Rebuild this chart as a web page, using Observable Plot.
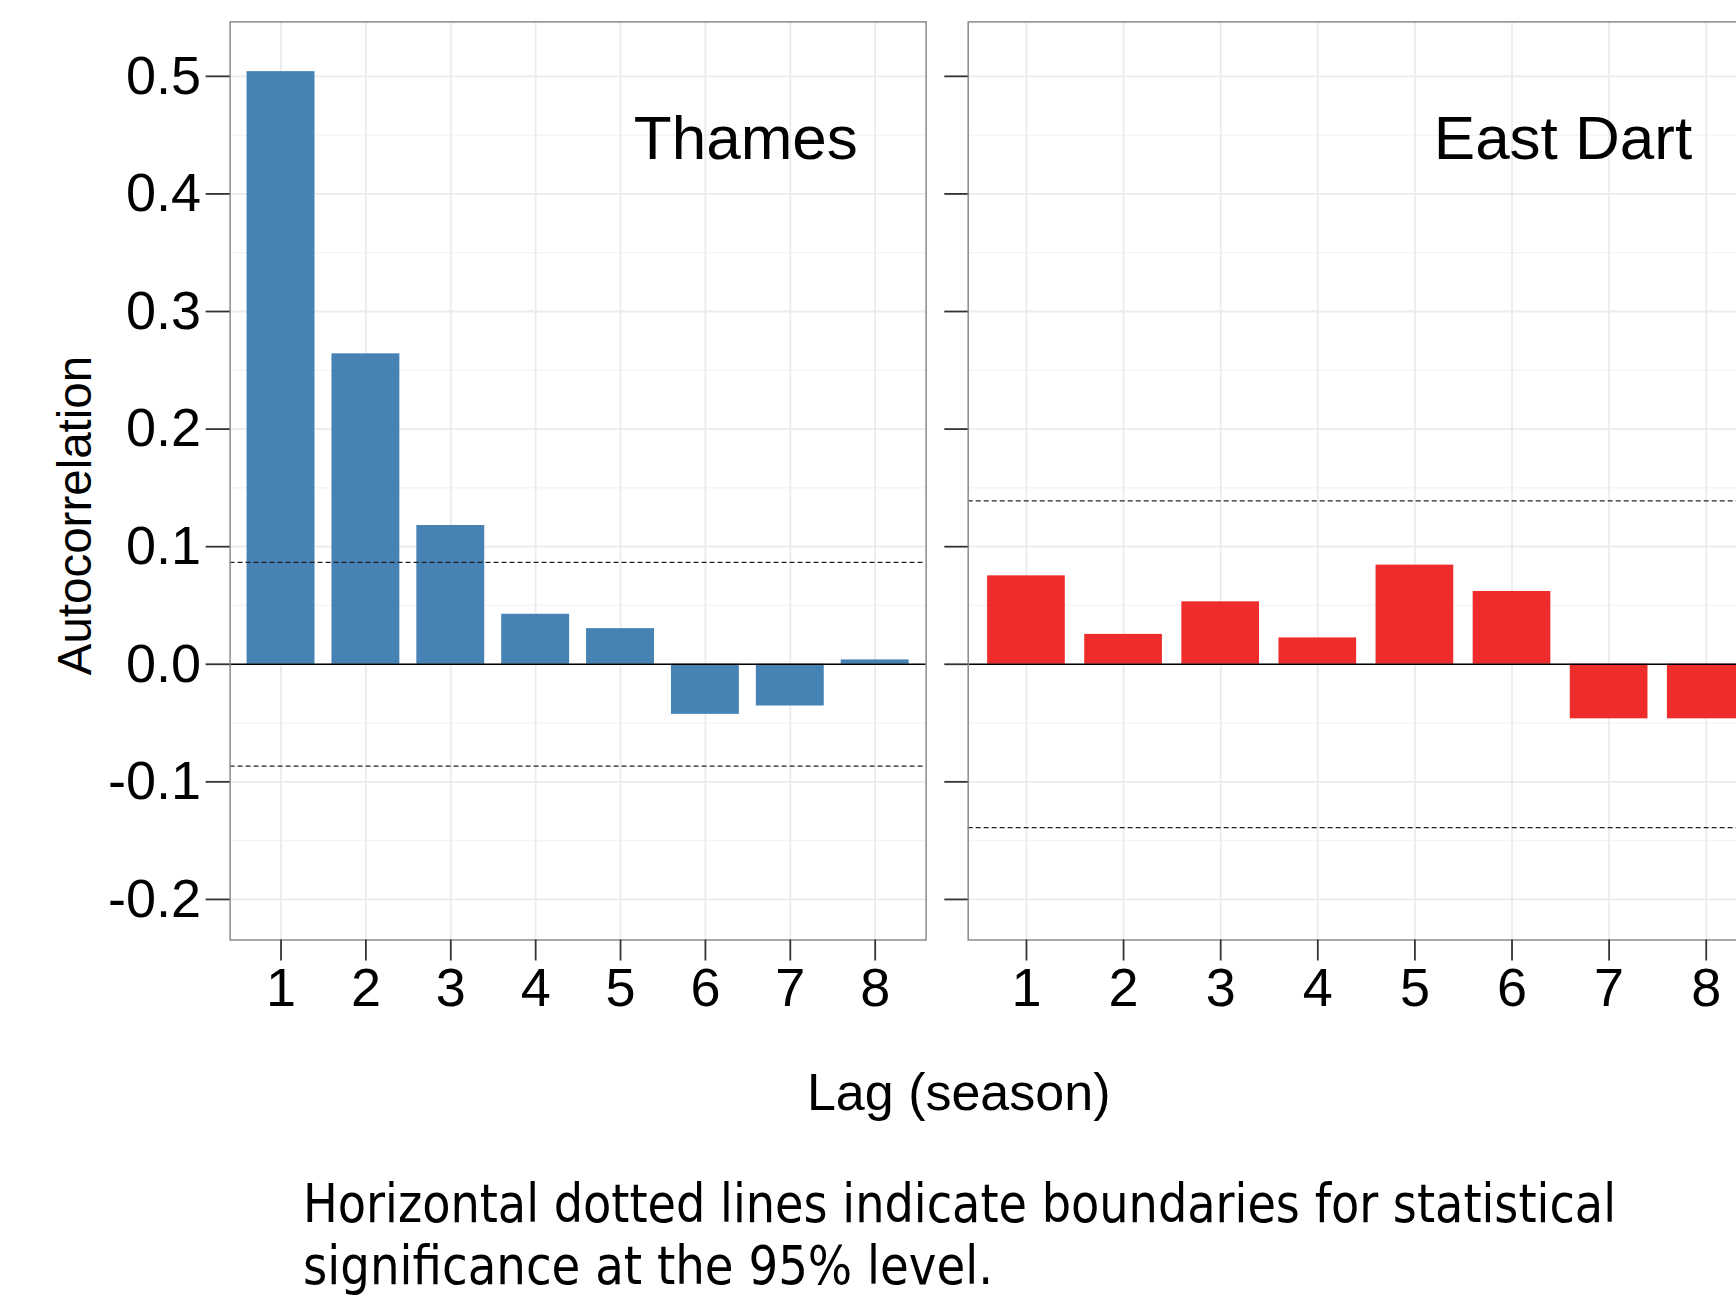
<!DOCTYPE html>
<html>
<head>
<meta charset="utf-8">
<script src="https://cdn.jsdelivr.net/npm/d3@7"></script>
<script src="https://cdn.jsdelivr.net/npm/@observablehq/plot@0.6"></script>
<style>
  html, body { margin: 0; padding: 0; background: #fff; overflow: hidden; }
  #stage { position: relative; width: 1736px; height: 1296px; overflow: hidden; background: #fff; }
  #left, #right, #overlay { position: absolute; top: 0; }
  #left { left: 0; }
  #right { left: 946px; }
  #overlay { left: 0; }
  svg { font-family: "Liberation Sans", Arial, sans-serif; }
</style>
</head>
<body>
<div id="stage">
  <div id="left"></div>
  <div id="right"></div>
  <svg id="overlay" width="1736" height="1296" style="overflow:visible">
    <text id="xtitle" x="958.7" y="1110.4" text-anchor="middle" font-size="52" fill="#000"
      font-family="Liberation Sans, Arial, sans-serif">Lag (season)</text>
    <text id="cap1" x="303" y="1221.7" font-size="53" fill="#000" textLength="1313" lengthAdjust="spacingAndGlyphs"
      style="font-family:'DejaVu Sans Condensed','DejaVu Sans',sans-serif; font-stretch:condensed">Horizontal dotted lines indicate boundaries for statistical</text>
    <text id="cap2" x="303" y="1284.3" font-size="53" fill="#000" textLength="690" lengthAdjust="spacingAndGlyphs"
      style="font-family:'DejaVu Sans Condensed','DejaVu Sans',sans-serif; font-stretch:condensed">significance at the 95% level.</text>
  </svg>
</div>
<script>
// ---- data ----
const lags = [1, 2, 3, 4, 5, 6, 7, 8];
const thamesAcf = [0.504, 0.264, 0.118, 0.0425, 0.0303, -0.0426, -0.0355, 0.0037];
const eastDartAcf = [0.0752, 0.0254, 0.0531, 0.0224, 0.0843, 0.0619, -0.0464, -0.0464];
const thamesBound = 0.0867;
const eastDartBound = 0.139;
const yTicks = [-0.2, -0.1, 0.0, 0.1, 0.2, 0.3, 0.4, 0.5];
const yMinor = [-0.15, -0.05, 0.05, 0.15, 0.25, 0.35, 0.45];
const yDomain = [-0.2345, 0.5463];
const panelNames = ["Thames", "East Dart"];
const panelColors = ["#4682B4", "#EE2C2C"];

function panel({values, bound, name, color, width, marginLeft, marginRight, labels, nameDx}) {
  const data = lags.map((lag, i) => ({lag, acf: values[i]}));
  const marks = [
    Plot.ruleY(yMinor, {stroke: "#f3f3f3", strokeWidth: 1.2}),
    Plot.ruleY(yTicks, {stroke: "#ebebeb", strokeWidth: 1.8}),
    Plot.gridX(lags, {stroke: "#ebebeb", strokeOpacity: 1, strokeWidth: 1.8}),
    Plot.barY(data, {x: "lag", y: "acf", fill: color}),
    Plot.ruleY([0], {stroke: "#000", strokeWidth: 1.5}),
    Plot.ruleY([bound, -bound], {stroke: "#222", strokeWidth: 1.3, strokeDasharray: "5,3"}),
    Plot.frame({stroke: "#8a8a8a", strokeWidth: 1.5}),
    Plot.axisY(yTicks, {
      anchor: "left", tickSize: labels ? 24 : 23.4, tickPadding: 5, fontSize: 54,
      stroke: "#333", strokeWidth: 1.8, label: null,
      tickFormat: labels ? (d => d.toFixed(1)) : (() => "")
    }),
    Plot.axisX(lags, {
      anchor: "bottom", tickSize: 21, tickPadding: 7, fontSize: 54,
      stroke: "#333", strokeWidth: 1.8, label: null
    }),
    Plot.text([name], {
      frameAnchor: "top-right", textAnchor: "end", lineAnchor: "bottom",
      dx: nameDx, dy: 137.1, fontSize: 62, fill: "#000"
    })
  ];
  if (labels) {
    marks.push(Plot.text(["Autocorrelation"], {
      frameAnchor: "left", rotate: -90, textAnchor: "middle", lineAnchor: "bottom",
      dx: -138.9, dy: 34.6, fontSize: 47.5, fill: "#000"
    }));
  }
  return Plot.plot({
    width, height: 1020,
    marginLeft, marginRight, marginTop: 21.4, marginBottom: 80.5,
    x: {type: "band", domain: lags, padding: 0.2, round: false, label: null},
    y: {domain: yDomain, label: null},
    style: {background: "transparent", color: "#000", fontFamily: "Liberation Sans, Arial, sans-serif", maxWidth: "none", overflow: "visible"},
    marks
  });
}

document.getElementById("left").append(panel({
  values: thamesAcf, bound: thamesBound, name: panelNames[0], color: panelColors[0],
  width: 946, marginLeft: 229.6, marginRight: 20.4, labels: true, nameDx: -68.3
}));
document.getElementById("right").append(panel({
  values: eastDartAcf, bound: eastDartBound, name: panelNames[1], color: panelColors[1],
  width: 818, marginLeft: 21.7, marginRight: 0, labels: false, nameDx: -72.3
}));
</script>
</body>
</html>
